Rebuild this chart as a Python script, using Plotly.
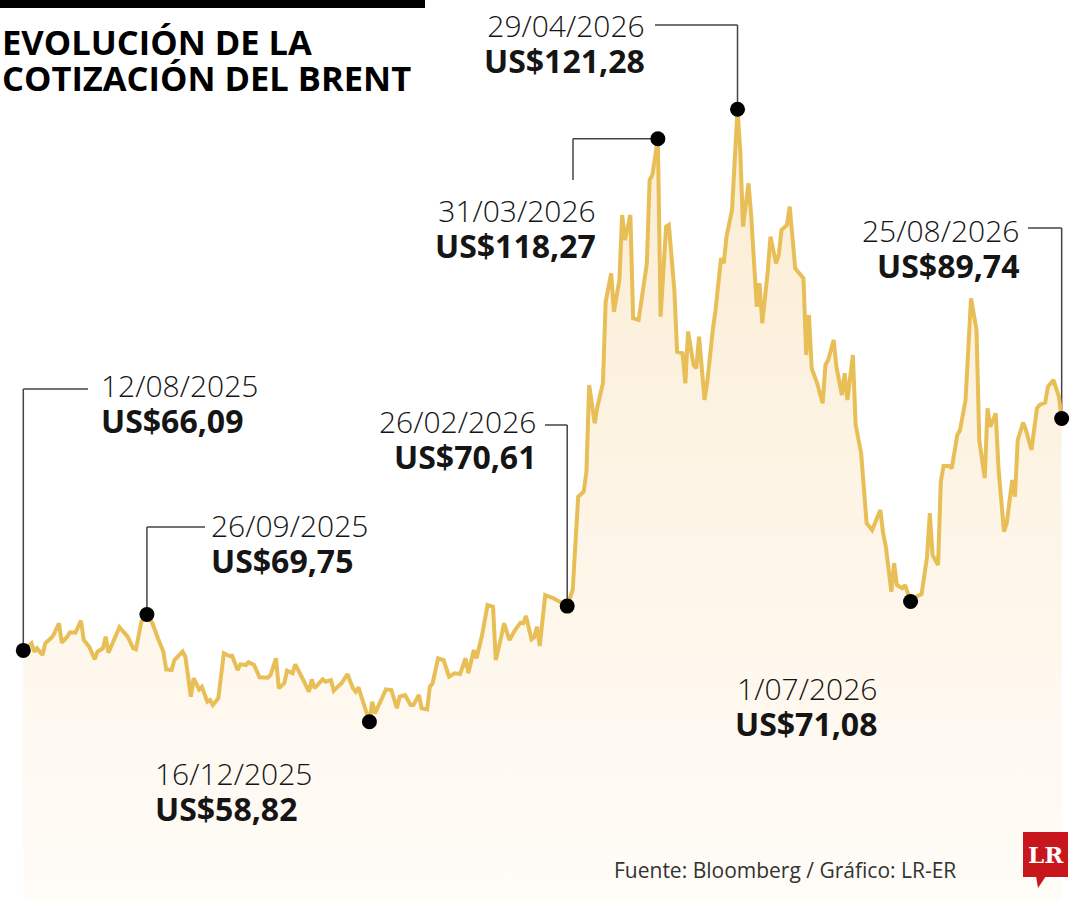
import plotly.graph_objects as go
import pandas as pd

# Cotización diaria del Brent (US$ por barril)
fechas = [
    "2025-08-12", "2025-08-15", "2025-08-16", "2025-08-17", "2025-08-19", "2025-08-20", "2025-08-22",
    "2025-08-23", "2025-08-25", "2025-08-26", "2025-08-28", "2025-08-29", "2025-08-31", "2025-09-02",
    "2025-09-03", "2025-09-05", "2025-09-07", "2025-09-08", "2025-09-10", "2025-09-11", "2025-09-12",
    "2025-09-14", "2025-09-16", "2025-09-19", "2025-09-21", "2025-09-22", "2025-09-24", "2025-09-26",
    "2025-09-28", "2025-09-30", "2025-10-02", "2025-10-03", "2025-10-05", "2025-10-06", "2025-10-09",
    "2025-10-10", "2025-10-12", "2025-10-13", "2025-10-15", "2025-10-16", "2025-10-18", "2025-10-19",
    "2025-10-20", "2025-10-22", "2025-10-24", "2025-10-26", "2025-10-27", "2025-10-29", "2025-10-30",
    "2025-11-01", "2025-11-02", "2025-11-04", "2025-11-06", "2025-11-09", "2025-11-10", "2025-11-12",
    "2025-11-13", "2025-11-15", "2025-11-16", "2025-11-18", "2025-11-19", "2025-11-21", "2025-11-24",
    "2025-11-25", "2025-11-26", "2025-11-29", "2025-11-30", "2025-12-02", "2025-12-03", "2025-12-06",
    "2025-12-08", "2025-12-10", "2025-12-11", "2025-12-12", "2025-12-13", "2025-12-14", "2025-12-15",
    "2025-12-16", "2025-12-17", "2025-12-18", "2025-12-20", "2025-12-22", "2025-12-24", "2025-12-26",
    "2025-12-27", "2025-12-29", "2025-12-31", "2026-01-01", "2026-01-03", "2026-01-04", "2026-01-06",
    "2026-01-07", "2026-01-08", "2026-01-10", "2026-01-12", "2026-01-14", "2026-01-16", "2026-01-18",
    "2026-01-20", "2026-01-21", "2026-01-23", "2026-01-24", "2026-01-26", "2026-01-28", "2026-01-30",
    "2026-01-31", "2026-02-02", "2026-02-03", "2026-02-05", "2026-02-07", "2026-02-09", "2026-02-10",
    "2026-02-11", "2026-02-13", "2026-02-14", "2026-02-15", "2026-02-16", "2026-02-18", "2026-02-21",
    "2026-02-23", "2026-02-26", "2026-02-28", "2026-03-01", "2026-03-02", "2026-03-04", "2026-03-05",
    "2026-03-06", "2026-03-08", "2026-03-09", "2026-03-11", "2026-03-12", "2026-03-14", "2026-03-15",
    "2026-03-17", "2026-03-18", "2026-03-19", "2026-03-21", "2026-03-22", "2026-03-24", "2026-03-26",
    "2026-03-27", "2026-03-28", "2026-03-29", "2026-03-31", "2026-04-01", "2026-04-03", "2026-04-04",
    "2026-04-06", "2026-04-07", "2026-04-09", "2026-04-10", "2026-04-11", "2026-04-13", "2026-04-14",
    "2026-04-15", "2026-04-17", "2026-04-18", "2026-04-20", "2026-04-21", "2026-04-23", "2026-04-24",
    "2026-04-25", "2026-04-27", "2026-04-29", "2026-04-30", "2026-05-01", "2026-05-03", "2026-05-04",
    "2026-05-06", "2026-05-07", "2026-05-08", "2026-05-10", "2026-05-11", "2026-05-13", "2026-05-14",
    "2026-05-15", "2026-05-17", "2026-05-18", "2026-05-20", "2026-05-21", "2026-05-23", "2026-05-24",
    "2026-05-25", "2026-05-26", "2026-05-28", "2026-05-30", "2026-05-31", "2026-06-01", "2026-06-03",
    "2026-06-04", "2026-06-06", "2026-06-07", "2026-06-08", "2026-06-10", "2026-06-11", "2026-06-13",
    "2026-06-14", "2026-06-15", "2026-06-17", "2026-06-18", "2026-06-20", "2026-06-21", "2026-06-22",
    "2026-06-24", "2026-06-25", "2026-06-26", "2026-06-28", "2026-06-29", "2026-06-30", "2026-07-01",
    "2026-07-03", "2026-07-05", "2026-07-07", "2026-07-08", "2026-07-09", "2026-07-11", "2026-07-12",
    "2026-07-13", "2026-07-15", "2026-07-16", "2026-07-18", "2026-07-19", "2026-07-21", "2026-07-22",
    "2026-07-23", "2026-07-25", "2026-07-26", "2026-07-28", "2026-07-29", "2026-07-30", "2026-08-01",
    "2026-08-02", "2026-08-04", "2026-08-05", "2026-08-07", "2026-08-08", "2026-08-09", "2026-08-11",
    "2026-08-12", "2026-08-14", "2026-08-16", "2026-08-17", "2026-08-19", "2026-08-20", "2026-08-22",
    "2026-08-24", "2026-08-25",
]
precios = [
    66.09, 66.82, 65.96, 66.31, 65.62, 66.82, 67.33,
    67.66, 68.86, 66.88, 67.49, 67.94, 67.90, 69.12,
    67.15, 66.47, 65.18, 65.96, 66.31, 67.49, 65.86,
    67.15, 68.45, 67.49, 66.31, 66.20, 69.02, 69.75,
    68.86, 67.33, 65.96, 64.16, 64.09, 65.11, 65.96,
    65.45, 61.37, 63.25, 62.12, 62.39, 60.86, 61.03,
    60.52, 61.21, 65.80, 65.52, 65.55, 64.09, 64.67,
    64.60, 64.88, 64.60, 63.35, 63.31, 63.58, 65.29,
    62.23, 62.74, 64.02, 63.76, 64.67, 63.58, 61.88,
    63.14, 62.23, 63.14, 62.90, 63.07, 61.98, 62.80,
    63.69, 62.23, 61.88, 62.33, 61.37, 60.70, 59.50,
    58.82, 60.86, 59.68, 60.86, 62.12, 62.05, 60.19,
    61.37, 61.54, 60.52, 60.52, 61.54, 60.19, 60.08,
    62.39, 62.74, 65.29, 65.11, 63.41, 63.76, 63.69,
    65.29, 63.76, 66.13, 65.29, 67.66, 70.72, 70.55,
    65.11, 67.49, 68.86, 67.15, 68.17, 68.92, 68.86,
    69.60, 67.22, 67.43, 68.51, 66.54, 71.74, 71.41,
    71.13, 70.61, 72.25, 76.67, 81.77, 82.28, 84.32,
    93.16, 89.25, 90.95, 93.33, 101.66, 104.55, 100.64,
    103.87, 110.50, 107.95, 110.50, 99.96, 99.79, 103.36,
    105.57, 114.07, 114.58, 118.27, 100.13, 109.31, 109.50,
    102.85, 96.56, 96.39, 93.33, 98.60, 95.20, 94.86,
    98.09, 91.63, 93.50, 98.77, 100.81, 106.08, 105.57,
    108.29, 111.01, 121.28, 116.96, 109.31, 113.73, 110.33,
    101.15, 103.54, 99.46, 104.72, 108.29, 105.57, 106.42,
    108.97, 109.48, 111.35, 105.07, 104.72, 104.04, 96.22,
    100.30, 94.86, 93.33, 91.29, 95.20, 95.71, 97.75,
    95.03, 92.14, 94.35, 91.63, 96.22, 89.08, 86.20,
    82.12, 79.06, 78.37, 79.06, 80.41, 78.04, 76.67,
    72.08, 74.98, 72.76, 72.43, 72.76, 71.92, 71.08,
    71.57, 71.84, 75.65, 80.08, 75.82, 74.80, 83.30,
    84.90, 84.90, 84.66, 88.06, 88.57, 91.63, 96.05,
    102.00, 98.77, 87.55, 83.65, 90.79, 88.91, 90.27,
    84.66, 78.20, 79.06, 83.47, 81.77, 87.55, 89.32,
    88.57, 86.53, 90.79, 91.12, 91.36, 92.99, 93.67,
    91.97, 89.74,
]

# Puntos destacados
hitos_fecha = ["2025-08-12", "2025-09-26", "2025-12-16", "2026-02-26",
               "2026-03-31", "2026-04-29", "2026-07-01", "2026-08-25"]
hitos_precio = [66.09, 69.75, 58.82, 70.61, 118.27, 121.28, 71.08, 89.74]

W, H = 1080, 900
ORO = "#E8BE57"

# escala: pixeles <-> datos (ejes sin márgenes)
X0 = pd.Timestamp("2025-08-12")
PX_X0, PX_DIA = 23.3, 2.747
PX_Y0, V_Y0, PX_USD = 721.7, 58.82, 9.805


def xd(px):
    return X0 + pd.Timedelta(days=(px - PX_X0) / PX_DIA)


def yv(py):
    return V_Y0 + (PX_Y0 - py) / PX_USD


def pxp(px):
    return px / W


def pyp(py):
    return 1 - py / H


fig = go.Figure()

fig.add_trace(go.Scatter(
    x=fechas, y=precios,
    mode="lines",
    line=dict(color=ORO, width=4),
    fill="tozeroy",
    fillgradient=dict(type="vertical", start=40, stop=125,
                      colorscale=[[0, "#FFFCF8"], [1, "#FBECD2"]]),
    hoverinfo="skip",
    showlegend=False,
))

fig.add_trace(go.Scatter(
    x=hitos_fecha, y=hitos_precio,
    mode="markers",
    marker=dict(color="black", size=15),
    hoverinfo="skip",
    showlegend=False,
))

# callouts: codo y fin de la línea guía (px), x del texto, alineación, centro vertical del texto
callouts = [
    dict(codo=389, fin=88, tx=99, al="left", ty=403, vert=True),
    dict(codo=527, fin=205, tx=209, al="left", ty=543, vert=True),
    dict(codo=773, fin=322, tx=153, al="left", ty=791, vert=True),
    dict(codo=425, fin=545, tx=538, al="right", ty=439, vert=True),
    dict(codo=573, fin=180, tx=598, al="right", ty=228, vert=False),
    dict(codo=25, fin=655, tx=647, al="right", ty=44, vert=True),
    dict(codo=680, fin=884, tx=879, al="right", ty=706, vert=True),
    dict(codo=228, fin=1028, tx=1021, al="right", ty=249, vert=True),
]

linea = dict(color="#444444", width=1.5)
for f, p, c in zip(hitos_fecha, hitos_precio, callouts):
    if c["vert"]:
        yc = yv(c["codo"])
        fig.add_shape(type="line", xref="x", yref="y", x0=f, y0=p, x1=f, y1=yc, line=linea, layer="below")
        fig.add_shape(type="line", xref="x", yref="y", x0=f, y0=yc, x1=xd(c["fin"]), y1=yc, line=linea, layer="below")
    else:
        xc = xd(c["codo"])
        fig.add_shape(type="line", xref="x", yref="y", x0=f, y0=p, x1=xc, y1=p, line=linea, layer="below")
        fig.add_shape(type="line", xref="x", yref="y", x0=xc, y0=p, x1=xc, y1=yv(c["fin"]), line=linea, layer="below")

    d = pd.Timestamp(f)
    etiqueta = f"{d.day}/{d.month:02d}/{d.year}"
    valor = f"US${p:.2f}".replace(".", ",")
    fig.add_annotation(
        x=pxp(c["tx"]), y=pyp(c["ty"]), xref="paper", yref="paper",
        text=f"<span style='font-size:30px'>{etiqueta}</span><br>"
             f"<span style='font-size:32px'><b>{valor}</b></span>",
        showarrow=False, xanchor=c["al"], yanchor="middle", align=c["al"],
        font=dict(family="Open Sans", size=27.5, color="#151515", weight=300),
    )

# Título
fig.add_shape(type="rect", xref="paper", yref="paper", x0=0, x1=pxp(425), y0=pyp(8), y1=1,
              fillcolor="black", line_width=0)
fig.add_annotation(x=pxp(0), y=pyp(60), xref="paper", yref="paper",
                   text="<span style='font-size:34.5px'><b>EVOLUCIÓN DE LA<br>COTIZACIÓN DEL BRENT</b></span>",
                   showarrow=False, xanchor="left", yanchor="middle", align="left",
                   font=dict(family="Open Sans", size=28, color="black"))

# Fuente
fig.add_annotation(x=pxp(958), y=pyp(870), xref="paper", yref="paper",
                   text="Fuente: Bloomberg / Gráfico: LR-ER", showarrow=False,
                   xanchor="right", yanchor="middle",
                   font=dict(family="Open Sans", size=21, color="#333333"))

# Logo LR
fig.add_shape(type="rect", xref="paper", yref="paper", x0=pxp(1023), x1=pxp(1068),
              y0=pyp(877), y1=pyp(832), fillcolor="#C8161D", line_width=0)
fig.add_shape(type="path", xref="paper", yref="paper",
              path=f"M {pxp(1036)} {pyp(876)} L {pxp(1046)} {pyp(876)} L {pxp(1038)} {pyp(888)} Z",
              fillcolor="#C8161D", line_width=0)
fig.add_annotation(x=pxp(1045.5), y=pyp(854), xref="paper", yref="paper", text="<b>LR</b>",
                   showarrow=False, xanchor="center", yanchor="middle",
                   font=dict(family="DejaVu Serif", size=23, color="white"))

fig.update_layout(
    width=W, height=H,
    margin=dict(l=0, r=0, t=0, b=0),
    paper_bgcolor="white",
    plot_bgcolor="white",
    xaxis=dict(range=[xd(0), xd(W)], visible=False, showgrid=False),
    yaxis=dict(range=[yv(H), yv(0)], visible=False, showgrid=False),
    showlegend=False,
)

# sin el margen por defecto del body, para que la figura ocupe toda la ventana
fig.write_html("out.html", config={"displayModeBar": False},
               post_script="document.body.style.margin='0';")
